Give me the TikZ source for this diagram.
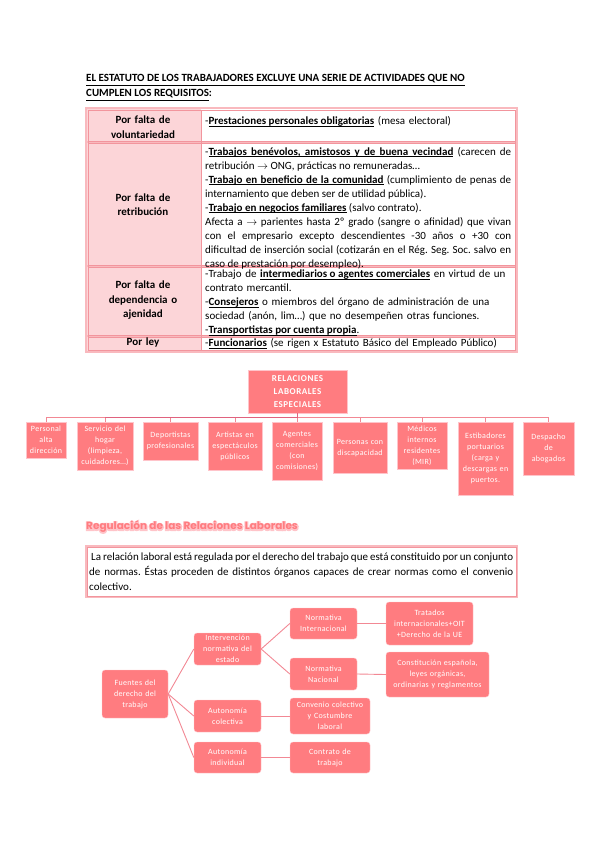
\documentclass[tikz,border=0pt]{standalone}
\usepackage{fontspec}
\setmainfont{Carlito}
\newfontfamily\headfont{Poppins}
\definecolor{boxpink}{HTML}{FF7C80}
\definecolor{cellpink}{HTML}{FCD5D8}
\definecolor{gridpink}{HTML}{F2959D}
\definecolor{framepink}{HTML}{F9B9BE}
\definecolor{edgepink}{HTML}{F28894}
\definecolor{busdark}{HTML}{E0627E}
\definecolor{glowpink}{HTML}{FFC4CA}
% underlined bold words, the gaps between them may stretch
\newsavebox\ubbox
\newcommand{\ubword}[1]{\sbox\ubbox{\textbf{#1}}\rlap{\vrule height -1.3pt depth 1.9pt width \wd\ubbox}\usebox\ubbox}
\newcommand{\ubgap}{\leaders\hrule height -1.3pt depth 1.9pt\hskip\fontdimen2\font plus\fontdimen3\font minus\fontdimen4\font}
\def\ubloop#1 #2\ubend{\ubword{#1}\if\relax\detokenize{#2}\relax\else\ubgap\ubloop#2\ubend\fi}
\newcommand{\ub}[1]{\ubloop#1 \ubend}
\frenchspacing

\begin{document}
\begin{tikzpicture}[x=1pt, y=-1pt,
    txt/.style={inner sep=0pt, anchor=north west, text width=306pt, align=left, font=\fontsize{11}{13.9}\selectfont},
    side/.style={inner sep=0pt, text width=110pt, align=center, font=\fontsize{11}{14.5}\selectfont\bfseries},
    espbox/.style={draw=glowpink, fill=boxpink, text=white, anchor=north, inner sep=1pt, align=center, font=\fontsize{8}{11}\selectfont\addfontfeatures{LetterSpace=4}},
    fuente/.style={draw=glowpink, fill=boxpink, text=white, rounded corners=3pt, inner sep=1pt, align=center, font=\fontsize{8}{11}\selectfont\addfontfeatures{LetterSpace=4}},
    tie/.style={edgepink, line width=0.9pt}]
    \useasboundingbox (0,0) rectangle (599,848);

    % Title
    \node[anchor=base west, inner sep=0pt, font=\fontsize{11}{12}\selectfont\bfseries] (tit1) at (86,82) {\underline{EL ESTATUTO DE LOS TRABAJADORES EXCLUYE UNA SERIE DE ACTIVIDADES QUE NO}};
    \node[anchor=base west, inner sep=0pt, font=\fontsize{11}{12}\selectfont\bfseries] (tit2) at (86,97) {\underline{CUMPLEN LOS REQUISITOS}:};

    % Table
    \fill[cellpink] (86,109) rectangle (201,351);
    \draw[framepink, line width=2.5pt] (86,108) rectangle (517,352);
    \foreach \y in {142,266,336} \draw[framepink, line width=2pt] (86,\y) -- (517,\y);
    \draw[gridpink, line width=0.7pt] (88,110) rectangle (515,350);
    \draw[gridpink, line width=0.7pt] (201,110) -- (201,350);
    \foreach \y in {141,143,265,267,335,337} \draw[gridpink, line width=0.5pt] (88,\y) -- (515,\y);

    \node[side] (vol) at (143,127) {Por falta de\\ voluntariedad};
    \node[side] (ret) at (143,204.5) {Por falta de\\ retribución};
    \node[side] (dep) at (143,300.5) {Por falta de\\ dependencia o\\ ajenidad};
    \node[side] (ley) at (143,343) {Por ley};

    \node[txt] (volT) at (205,115) {\strut-\ub{Prestaciones personales obligatorias} (mesa electoral)};
    \node[txt, align=justify, font=\fontsize{11}{14}\selectfont] (retT) at (205,145) {\strut-\ub{Trabajos benévolos, amistosos y de buena vecindad} (carecen de\linebreak
        retribución $\rightarrow$ ONG, prácticas no remuneradas…\par
        -\ub{Trabajo en beneficio de la comunidad} (cumplimiento de penas de\linebreak
        internamiento que deben ser de utilidad pública).\par
        -\ub{Trabajo en negocios familiares} (salvo contrato).\par
        Afecta a $\rightarrow$ parientes hasta 2º grado (sangre o afinidad) que vivan\linebreak
        con el empresario excepto descendientes -30 años o +30 con\linebreak
        dificultad de inserción social (cotizarán en el Rég. Seg. Soc. salvo en\linebreak
        caso de prestación por desempleo).};
    \node[txt] (depT) at (205,268) {\strut-Trabajo de \ub{intermediarios o agentes comerciales} en virtud de un\\
        contrato mercantil.\\
        -\ub{Consejeros} o miembros del órgano de administración de una\\
        sociedad (anón, lim…) que no desempeñen otras funciones.\\
        -\ub{Transportistas por cuenta propia}.};
    \node[txt] (leyT) at (205,337) {\strut-\ub{Funcionarios} (se rigen x Estatuto Básico del Empleado Público)};

    % Relaciones laborales especiales
    \node[espbox, text width=97pt, minimum height=43pt, font=\fontsize{9}{13}\selectfont\bfseries\addfontfeatures{LetterSpace=6}] (rle) at (297.5,370) {RELACIONES\\ LABORALES\\ ESPECIALES};
    \coordinate (bus) at (297.5,417);
    \foreach \n/\x/\w/\h/\t in {
        e1/46/38/36/{Personal\\ alta\\ dirección},
        e2/105/54/48/{Servicio del\\ hogar\\ (limpieza,\\ cuidadores…)},
        e3/170.5/53/38/{Deportistas\\ profesionales},
        e4/235/52/48/{Artistas en\\ espectáculos\\ públicos},
        e5/297/48/58/{Agentes\\ comerciales\\ (con\\ comisiones)},
        e6/360/52/51/{Personas con\\ discapacidad},
        e7/422/48/47/{Médicos\\ internos\\ residentes\\ (MIR)},
        e8/485.5/53/73/{Estibadores\\ portuarios\\ (carga y\\ descargas en\\ puertos.},
        e9/548.5/49/53/{Despacho\\ de\\ abogados}} {
        \node[espbox, text width=\w pt, minimum height=\h pt] (\n) at (\x,422) {\t};
        \draw[tie] (\n.north) -- (\n.north |- bus);
    }
    \draw[tie] (e1.north |- bus) -- (e9.north |- bus);
    \draw[busdark, line width=0.9pt] (e2.north |- bus) -- (bus) -- (rle.south);

    % Regulacion de las relaciones laborales
    \node[anchor=west, inner sep=0pt, font=\headfont\bfseries\fontsize{10.5}{12}\selectfont] (regGlow) at (86,527) {\special{pdf:literal direct q 1 Tr 2.2 w 1 0.77 0.79 RG}Regulación de las Relaciones Laborales\special{pdf:literal direct Q}};
    \node[anchor=west, inner sep=0pt, text=boxpink, font=\headfont\bfseries\fontsize{10.5}{12}\selectfont] (reg) at (86,527) {Regulación de las Relaciones Laborales};
    \draw[framepink, line width=2pt] (86,546) rectangle (517,597);
    \draw[gridpink, line width=0.6pt] (87,547) rectangle (516,596);
    \node[txt, text width=424pt, align=justify, font=\fontsize{11}{15}\selectfont] (par) at (89,553) {\hspace*{2pt}La relación laboral está regulada por el derecho del trabajo que está constituido por un conjunto\linebreak
        de normas. Éstas proceden de distintos órganos capaces de crear normas como el convenio\linebreak
        colectivo.};

    % Fuentes del derecho del trabajo
    \node[fuente, text width=64pt, minimum height=48pt] (fdt) at (135,694) {Fuentes del\\ derecho del\\ trabajo};
    \node[fuente, text width=65pt, minimum height=32pt] (ine) at (227.5,649) {Intervención\\ normativa del\\ estado};
    \node[fuente, text width=65pt, minimum height=32pt] (aco) at (227.5,716) {Autonomía\\ colectiva};
    \node[fuente, text width=65pt, minimum height=31pt] (ain) at (227.5,757.5) {Autonomía\\ individual};
    \node[fuente, text width=65pt, minimum height=31pt] (nin) at (323.5,623.5) {Normativa\\ Internacional};
    \node[fuente, text width=65pt, minimum height=32pt] (nna) at (323.5,674) {Normativa\\ Nacional};
    \node[fuente, text width=78pt, minimum height=36pt] (ccc) at (330,716) {Convenio colectivo\\ y Costumbre\\ laboral};
    \node[fuente, text width=78pt, minimum height=31pt] (ctr) at (330,757.5) {Contrato de\\ trabajo};
    \node[fuente, text width=85pt, minimum height=43pt] (tra) at (429.5,623.5) {Tratados\\ internacionales+OIT\\ +Derecho de la UE};
    \node[fuente, text width=101pt, minimum height=45pt] (con) at (437.5,674.5) {Constitución española,\\ leyes orgánicas,\\ ordinarias y reglamentos};
    \foreach \a/\b in {fdt/ine, fdt/aco, fdt/ain, ine/nin, ine/nna, aco/ccc, ain/ctr, nin/tra, nna/con}
        \draw[tie] (\a.east) -- (\b.west);
\end{tikzpicture}
\end{document}
